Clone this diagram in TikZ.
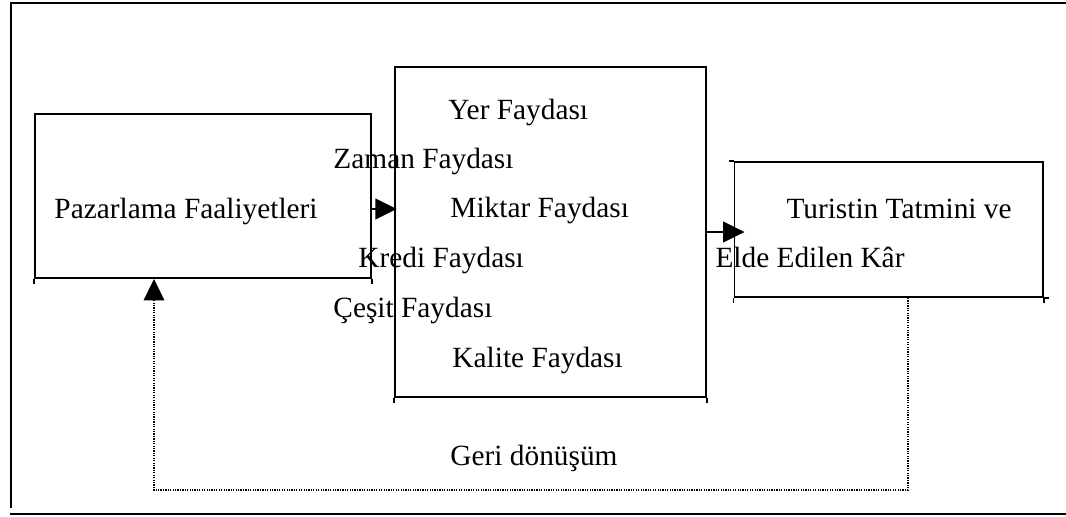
\documentclass[tikz,border=0pt]{standalone}
\usepackage{fontspec}
\setmainfont{Liberation Serif}
\usetikzlibrary{arrows.meta, positioning}

\tikzset{
  kutu/.style={draw, line width=0.8pt, inner sep=0pt},
  yazi/.style={anchor=base west, inner sep=0pt, font=\fontsize{12.1}{14}\selectfont},
  ok/.style={line width=0.8pt, -{Triangle[length=0.31cm, width=0.3cm]}},
  geri/.style={line width=0.5pt, dash pattern=on 0.5pt off 0.5pt, -{Triangle[length=0.31cm, width=0.3cm]}}
}

\begin{document}
\begin{tikzpicture}[x=0.0145cm, y=-0.0145cm]
    \useasboundingbox (0,0) rectangle (1066,516);

    % outer frame
    \draw[line width=0.8pt] (1066,3) -- (11,3) -- (11,508);
    \draw[line width=0.8pt] (10,514) -- (1066,514);

    % boxes
    \node[kutu, minimum width=4.872cm, minimum height=2.378cm] (pazar) at (203,196) {};
    \node[kutu, minimum width=4.51cm, minimum height=4.785cm] (fayda) at (550.5,232) {};
    \node[kutu, minimum width=4.466cm, minimum height=1.958cm] (tatmin) at (888.5,229.5) {};

    % small corner ticks
    \foreach \b in {pazar, fayda, tatmin} {
        \draw[line width=0.8pt] (\b.south west) -- ++(0,5);
        \draw[line width=0.8pt] (\b.south east) -- ++(0,5);
    }
    \draw[line width=0.8pt] (tatmin.north west) -- ++(-5,0);
    \draw[line width=0.8pt] (tatmin.south east) -- ++(5,0);

    % texts
    \node[yazi] (t1) at (54,218) {Pazarlama Faaliyetleri};
    \node[yazi] (f1) at (448,119) {Yer Faydası};
    \node[yazi] (f2) at (333,168) {Zaman Faydası};
    \node[yazi] (f3) at (450,217) {Miktar Faydası};
    \node[yazi] (f4) at (358,267) {Kredi Faydası};
    \node[yazi] (f5) at (333,317) {Çeşit Faydası};
    \node[yazi] (f6) at (452,367) {Kalite Faydası};
    \node[yazi] (s1) at (786,218) {Turistin Tatmini ve};
    \node[yazi] (s2) at (715,267) {Elde Edilen Kâr};
    \node[yazi] (g1) at (450,465) {Geri dönüşüm};

    % arrows
    \draw[ok, shorten >=-0.04cm] (pazar.east |- 0,209) -- (fayda.west |- 0,209);
    \draw[ok, shorten >=-0.16cm] (fayda.east) -- (fayda.east -| tatmin.west);

    % feedback
    \coordinate (d1) at (908,490);
    \coordinate (d2) at (154,490);
    \draw[geri] (tatmin.south -| d1) -- (d1) -- (d2) -- (pazar.south -| d2);
\end{tikzpicture}
\end{document}
